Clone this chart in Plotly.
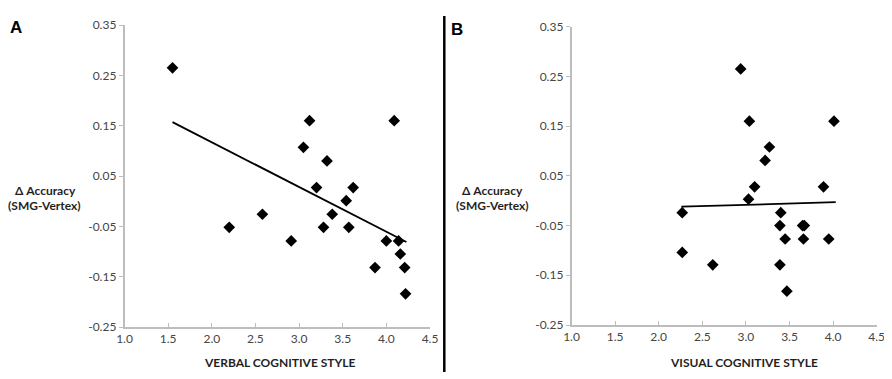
import plotly.graph_objects as go

# Panel A: verbal cognitive style
verbal_x = [1.55, 3.12, 4.09, 3.05, 3.32, 3.20, 3.62, 3.54, 2.58, 3.38,
            2.20, 3.28, 3.57, 2.91, 4.00, 4.14, 4.16, 3.87, 4.21, 4.22]
verbal_y = [0.265, 0.160, 0.160, 0.107, 0.080, 0.027, 0.027, 0.001, -0.026, -0.026,
            -0.052, -0.052, -0.052, -0.079, -0.079, -0.079, -0.105, -0.132, -0.132, -0.184]
verbal_trend_x = [1.55, 4.23]
verbal_trend_y = [0.157, -0.081]

# Panel B: visual cognitive style
visual_x = [2.94, 3.04, 4.01, 3.27, 3.22, 3.10, 3.89, 3.03, 2.27, 3.40,
            3.39, 3.65, 3.67, 3.45, 3.66, 3.95, 2.27, 2.62, 3.39, 3.47]
visual_y = [0.265, 0.160, 0.160, 0.108, 0.081, 0.028, 0.028, 0.003, -0.024, -0.024,
            -0.050, -0.050, -0.050, -0.077, -0.077, -0.077, -0.104, -0.129, -0.129, -0.182]
visual_trend_x = [2.26, 4.03]
visual_trend_y = [-0.012, -0.003]

x_ticks = [1.0, 1.5, 2.0, 2.5, 3.0, 3.5, 4.0, 4.5]
y_ticks = [-0.25, -0.15, -0.05, 0.05, 0.15, 0.25, 0.35]
x_labels = ["1.0", "1.5", "2.0", "2.5", "3.0", "3.5", "4.0", "4.5"]
y_labels = ["-0.25", "-0.15", "-0.05", "0.05", "0.15", "0.25", "0.35"]

W, H = 892, 379
OFF = 8  # page body margin


def px(x):
    return (x - OFF) / W


def py(y):
    return 1 - (y - OFF) / H


tick_font = dict(family="Lato, Open Sans, sans-serif", size=12, color="#454545")
axis_col = "#bdbdbd"

fig = go.Figure()
marker = dict(symbol="diamond", size=9, color="black")
fig.add_trace(go.Scatter(x=verbal_x, y=verbal_y, mode="markers", marker=marker,
                         xaxis="x", yaxis="y", showlegend=False))
fig.add_trace(go.Scatter(x=verbal_trend_x, y=verbal_trend_y, mode="lines",
                         line=dict(color="black", width=1.8),
                         xaxis="x", yaxis="y", showlegend=False))
fig.add_trace(go.Scatter(x=visual_x, y=visual_y, mode="markers", marker=marker,
                         xaxis="x2", yaxis="y2", showlegend=False))
fig.add_trace(go.Scatter(x=visual_trend_x, y=visual_trend_y, mode="lines",
                         line=dict(color="black", width=1.8),
                         xaxis="x2", yaxis="y2", showlegend=False))


def xax(domain, anchor):
    return dict(domain=domain, anchor=anchor, range=[1.0, 4.5], tickvals=x_ticks,
                ticktext=x_labels, showgrid=False, zeroline=False, showline=True,
                linecolor=axis_col, linewidth=1.5, ticks="inside", ticklen=4,
                tickcolor=axis_col, tickfont=tick_font, automargin=False)


def yax(domain, anchor):
    return dict(domain=domain, anchor=anchor, range=[-0.25, 0.35], tickvals=y_ticks,
                ticktext=y_labels, showgrid=False, zeroline=False, showline=True,
                linecolor=axis_col, linewidth=1.5, ticks="outside", ticklen=4,
                tickcolor=axis_col, tickfont=tick_font, automargin=False)


fig.update_layout(
    template="none",
    width=W, height=H, margin=dict(l=0, r=0, t=0, b=0),
    paper_bgcolor="white", plot_bgcolor="white",
    xaxis=xax([px(124.5), px(430)], "y"),
    yaxis=yax([py(327), py(25)], "x"),
    xaxis2=xax([px(571.5), px(876.7)], "y2"),
    yaxis2=yax([py(325), py(26.7)], "x2"),
)

title_font = dict(family="Lato, Open Sans, sans-serif", size=12, color="#1f1f1f")
panel_font = dict(family="Liberation Sans, Arial, sans-serif", size=17, color="black")
anns = [
    ("<b>A</b>", 16, 28, panel_font),
    ("<b>B</b>", 457, 29, panel_font),
    ("<b>Δ Accuracy</b>", 45, 190, title_font),
    ("<b>(SMG-Vertex)</b>", 44, 205, title_font),
    ("<b>Δ Accuracy</b>", 492, 190, title_font),
    ("<b>(SMG-Vertex)</b>", 492, 205, title_font),
    ("<b>VERBAL COGNITIVE STYLE</b>", 280, 362, title_font),
    ("<b>VISUAL COGNITIVE STYLE</b>", 744, 362, title_font),
]
for text, x, y, f in anns:
    fig.add_annotation(text=text, x=px(x), y=py(y), xref="paper", yref="paper",
                       showarrow=False, xanchor="center", yanchor="middle", font=f)

fig.add_shape(type="line", xref="paper", yref="paper",
              x0=px(444.3), x1=px(444.3), y0=py(16), y1=py(372),
              line=dict(color="black", width=2.5))

fig.write_html("out.html")
